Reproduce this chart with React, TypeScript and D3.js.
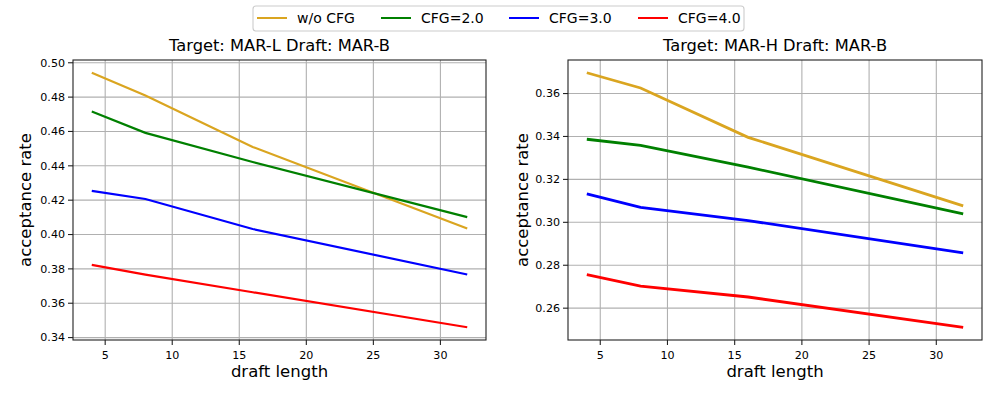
import React from "react";
import * as d3 from "d3";

const draftLengths = [4, 8, 16, 32];

const seriesNames = ["w/o CFG", "CFG=2.0", "CFG=3.0", "CFG=4.0"];
const seriesColors = ["#DAA520", "#008000", "#0000ff", "#ff0000"];

// Target: MAR-L, Draft: MAR-B
const marL_noCfg = [0.4942, 0.481, 0.451, 0.4035];
const marL_cfg2 = [0.4716, 0.4592, 0.4422, 0.4101];
const marL_cfg3 = [0.4254, 0.4207, 0.4032, 0.3767];
const marL_cfg4 = [0.3823, 0.3767, 0.3664, 0.346];

// Target: MAR-H, Draft: MAR-B
const marH_noCfg = [0.3697, 0.3626, 0.3396, 0.3077];
const marH_cfg2 = [0.3387, 0.3359, 0.3257, 0.3039];
const marH_cfg3 = [0.3133, 0.307, 0.3008, 0.2858];
const marH_cfg4 = [0.2756, 0.2703, 0.2652, 0.2511];

const xTicks = [5, 10, 15, 20, 25, 30];
const leftYTicks = [0.34, 0.36, 0.38, 0.4, 0.42, 0.44, 0.46, 0.48, 0.5];
const rightYTicks = [0.26, 0.28, 0.3, 0.32, 0.34, 0.36];

const FONT = "'DejaVu Sans', sans-serif";

type PanelProps = {
  title: string;
  series: number[][];
  yTicks: number[];
  left: number;
  right: number;
  labelX: number;
  lineWidth: number;
};

function Panel({ title, series, yTicks, left, right, labelX, lineWidth }: PanelProps) {
  const top = 60;
  const bottom = 340;
  const x = d3.scaleLinear().domain([2.6, 33.4]).range([left, right]);
  const all = series.flat();
  const lo = d3.min(all)!;
  const hi = d3.max(all)!;
  const pad = (hi - lo) * 0.05;
  const y = d3.scaleLinear().domain([lo - pad, hi + pad]).range([bottom, top]);
  const line = d3
    .line<number>()
    .x((_, i) => x(draftLengths[i]))
    .y((d) => y(d));

  return (
    <g>
      {/* grid */}
      {xTicks.map((t) => (
        <line key={"gx" + t} x1={x(t)} x2={x(t)} y1={top} y2={bottom} stroke="#b0b0b0" strokeWidth={1.1} />
      ))}
      {yTicks.map((t) => (
        <line key={"gy" + t} x1={left} x2={right} y1={y(t)} y2={y(t)} stroke="#b0b0b0" strokeWidth={1.1} />
      ))}
      {series.map((s, i) => (
        <path key={i} d={line(s)!} fill="none" stroke={seriesColors[i]} strokeWidth={lineWidth} />
      ))}
      <rect x={left} y={top} width={right - left} height={bottom - top} fill="none" stroke="#222" strokeWidth={1.1} />
      {/* ticks */}
      {xTicks.map((t) => (
        <g key={"tx" + t}>
          <line x1={x(t)} x2={x(t)} y1={bottom} y2={bottom + 5} stroke="#222" strokeWidth={1.1} />
          <text x={x(t)} y={359} textAnchor="middle" fontSize={11.1} fontFamily={FONT} fill="#000">
            {t}
          </text>
        </g>
      ))}
      {yTicks.map((t) => (
        <g key={"ty" + t}>
          <line x1={left - 5} x2={left} y1={y(t)} y2={y(t)} stroke="#222" strokeWidth={1.1} />
          <text x={left - 8} y={y(t)} dy="0.35em" textAnchor="end" fontSize={11.1} fontFamily={FONT} fill="#000">
            {d3.format(".2f")(t)}
          </text>
        </g>
      ))}
      <text x={(left + right) / 2} y={51} textAnchor="middle" fontSize={16.3} fontFamily={FONT} fill="#000">
        {title}
      </text>
      <text x={(left + right) / 2} y={377} textAnchor="middle" fontSize={16.5} fontFamily={FONT} fill="#000">
        draft length
      </text>
      <text
        transform={`translate(${labelX},${(top + bottom) / 2}) rotate(-90)`}
        textAnchor="middle"
        dy="0.35em"
        fontSize={16.5}
        fontFamily={FONT}
        fill="#000"
      >
        acceptance rate
      </text>
    </g>
  );
}

function Legend() {
  const items = [257, 381, 509, 638];
  return (
    <g>
      <rect x={253} y={6} width={491} height={25} rx={3} fill="#fff" fillOpacity={0.8} stroke="#cccccc" strokeWidth={1.1} />
      {seriesNames.map((n, i) => (
        <g key={n}>
          <line x1={items[i]} x2={items[i] + 30} y1={18} y2={18} stroke={seriesColors[i]} strokeWidth={2} />
          <text x={items[i] + 40} y={18} dy="0.35em" fontSize={14} fontFamily={FONT} fill="#000">
            {n}
          </text>
        </g>
      ))}
    </g>
  );
}

export default function App() {
  return (
    <svg width={997} height={399} style={{ position: "absolute", left: 0, top: 0, background: "#fff" }}>
      <Panel
        title="Target: MAR-L Draft: MAR-B"
        series={[marL_noCfg, marL_cfg2, marL_cfg3, marL_cfg4]}
        yTicks={leftYTicks}
        left={73}
        right={486}
        labelX={25}
        lineWidth={2.2}
      />
      <Panel
        title="Target: MAR-H Draft: MAR-B"
        series={[marH_noCfg, marH_cfg2, marH_cfg3, marH_cfg4]}
        yTicks={rightYTicks}
        left={568}
        right={982}
        labelX={522}
        lineWidth={2.8}
      />
      <Legend />
    </svg>
  );
}
